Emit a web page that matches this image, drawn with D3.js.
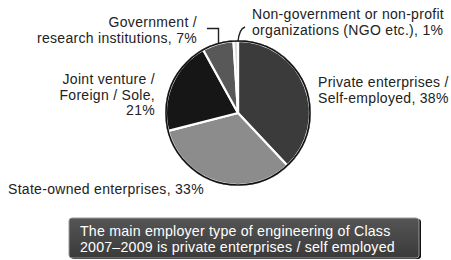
<!DOCTYPE html>
<html>
<head>
<meta charset="utf-8">
<script src="https://cdn.jsdelivr.net/npm/d3@7"></script>
<style>
  body { margin: 0; background: #fff; }
  svg { display: block; font-family: "Liberation Sans", Arial, sans-serif; }
</style>
</head>
<body>
<div id="chart"></div>
<script>
// Data
var categories = ["Private enterprises / Self-employed", "State-owned enterprises",
    "Joint venture / Foreign / Sole", "Government / research institutions",
    "Non-government or non-profit organizations (NGO etc.)"];
var shares = [38, 33, 21, 7, 1];
var sliceColors = ["#3b3b3b", "#8c8c8c", "#161616", "#585858", "#d8d8d8"];

// label lines (as printed on the chart)
var labelLines = [
    ["Private enterprises /", "Self-employed, 38%"],
    ["State-owned enterprises, 33%"],
    ["Joint venture /", "Foreign / Sole,", "21%"],
    ["Government /", "research institutions, 7%"],
    ["Non-government or non-profit", "organizations (NGO etc.), 1%"]
];
var noteLines = ["The main employer type of engineering of Class",
    "2007\u20132009 is private enterprises / self employed"];

// Layout
var width = 451, height = 260;
var cx = 238, cy = 113, radius = 72;

var svg = d3.select("#chart").append("svg")
    .attr("width", width).attr("height", height);

var defs = svg.append("defs");
var grad = defs.append("linearGradient").attr("id", "boxGrad")
    .attr("x1", 0).attr("y1", 0).attr("x2", 0).attr("y2", 1);
grad.append("stop").attr("offset", "0%").attr("stop-color", "#555");
grad.append("stop").attr("offset", "100%").attr("stop-color", "#3a3a3a");

var pie = d3.pie().sort(null).value(function(d) { return d; });
var arc = d3.arc().innerRadius(0).outerRadius(radius);
var arcs = pie(shares);

var pieG = svg.append("g").attr("transform", "translate(" + cx + "," + cy + ")");

// outer black rim
pieG.append("circle").attr("r", radius + 1).attr("fill", "#111");

pieG.selectAll(".slice")
    .data(arcs)
    .enter()
    .append("path")
    .attr("class", "slice")
    .attr("d", arc)
    .attr("fill", function(d, i) { return sliceColors[i]; })
    .attr("stroke", "#fff")
    .attr("stroke-width", 2.2)
    .attr("stroke-linejoin", "round");

// re-draw black rim on top of white separators
pieG.append("circle").attr("r", radius).attr("fill", "none")
    .attr("stroke", "#111").attr("stroke-width", 1.6);

// Labels
var labelPos = [
    { x: 318, y: 87, anchor: "start" },
    { x: 8, y: 194, anchor: "start" },
    { x: 155, y: 84, anchor: "end" },
    { x: 197, y: 27, anchor: "end" },
    { x: 252, y: 19, anchor: "start" }
];
var lineH = 15.6;

var labelG = svg.append("g").attr("fill", "#222")
    .attr("font-size", "14px").attr("letter-spacing", "0.3px");
labelG.selectAll("text")
    .data(labelLines)
    .enter()
    .append("text")
    .attr("text-anchor", function(d, i) { return labelPos[i].anchor; })
    .each(function(lines, i) {
        var t = d3.select(this);
        lines.forEach(function(line, k) {
            t.append("tspan")
                .attr("x", labelPos[i].x)
                .attr("y", labelPos[i].y + k * lineH)
                .text(line);
        });
    });

// leader lines for the two small slices
var leader = d3.line().curve(d3.curveLinear);
svg.append("path")
    .attr("d", leader([[207, 28.5], [218.5, 28.5], [218.5, 43]]))
    .attr("fill", "none").attr("stroke", "#222").attr("stroke-width", 1.4);
svg.append("path")
    .attr("d", "M245,27 Q239,29 238,42")
    .attr("fill", "none").attr("stroke", "#222").attr("stroke-width", 1.4);

// Note box
var box = { x: 69, y: 218, w: 350, h: 40 };
svg.append("rect")
    .attr("x", box.x + 2).attr("y", box.y + 1)
    .attr("width", box.w).attr("height", box.h)
    .attr("rx", 3).attr("fill", "#111");
svg.append("rect")
    .attr("x", box.x).attr("y", box.y)
    .attr("width", box.w).attr("height", box.h)
    .attr("rx", 3)
    .attr("fill", "url(#boxGrad)")
    .attr("stroke", "#999").attr("stroke-width", 1);

svg.append("text")
    .attr("fill", "#fff")
    .attr("font-size", "14.2px")
    .attr("letter-spacing", "0.2px")
    .selectAll("tspan")
    .data(noteLines)
    .enter()
    .append("tspan")
    .attr("x", box.x + 11)
    .attr("y", function(d, i) { return box.y + 18 + i * 16; })
    .text(function(d) { return d; });
</script>
</body>
</html>
